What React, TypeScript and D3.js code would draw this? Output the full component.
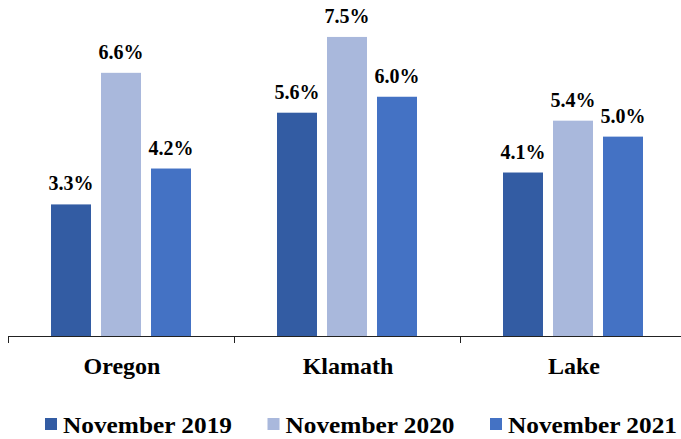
import React from "react";
import * as d3 from "d3";

const categories = ["Oregon", "Klamath", "Lake"];
const seriesNames = ["November 2019", "November 2020", "November 2021"];
const nov2019 = [3.3, 5.6, 4.1];
const nov2020 = [6.6, 7.5, 5.4];
const nov2021 = [4.2, 6.0, 5.0];
const colors = ["#335CA3", "#A9B8DC", "#4472C4"];

const W = 681;
const H = 439;
const font = "Times New Roman, Liberation Serif, Tinos, serif";

export default function App() {
  const values = [nov2019, nov2020, nov2021];

  const x = d3.scaleBand<string>().domain(categories).range([8, 686]);
  const xInner = d3
    .scaleBand<string>()
    .domain(seriesNames)
    .range([43, 183])
    .paddingInner(0.2);
  const y = d3.scaleLinear().domain([0, 8]).range([336, 17]);

  const boundaries = categories.map((c) => x(c) as number);

  return (
    <svg
      width={W}
      height={H}
      style={{ position: "absolute", left: 0, top: 0, background: "#fff", fontFamily: font }}
    >
      {categories.map((c, ci) =>
        seriesNames.map((s, si) => {
          const v = values[si][ci];
          const bx = (x(c) as number) + (xInner(s) as number);
          return (
            <g key={c + s}>
              <rect
                x={bx}
                y={y(v)}
                width={xInner.bandwidth()}
                height={y(0) - y(v)}
                fill={colors[si]}
              />
              <text
                x={bx + xInner.bandwidth() / 2}
                y={y(v) - 14}
                textAnchor="middle"
                fontWeight="bold"
                fontSize={20}
                fill="#000"
              >
                {v.toFixed(1)}%
              </text>
            </g>
          );
        })
      )}

      {/* axis */}
      <line x1={8} x2={W} y1={336.5} y2={336.5} stroke="#222" strokeWidth={1} />
      {boundaries.map((b) => (
        <line key={b} x1={b + 0.5} x2={b + 0.5} y1={336} y2={343} stroke="#222" />
      ))}
      {categories.map((c) => (
        <text
          key={c}
          x={(x(c) as number) + x.bandwidth() / 2 + 1}
          y={374}
          textAnchor="middle"
          fontWeight="bold"
          fontSize={24}
          fill="#000"
        >
          {c}
        </text>
      ))}

      {/* legend */}
      {seriesNames.map((s, i) => {
        const lx = 45 + i * 222.5;
        return (
          <g key={s}>
            <rect x={lx} y={418} width={12} height={12} fill={colors[i]} />
            <text
              x={lx + 18}
              y={433}
              fontWeight="bold"
              fontSize={23}
              textLength={169}
              lengthAdjust="spacingAndGlyphs"
              fill="#000"
            >
              {s}
            </text>
          </g>
        );
      })}
    </svg>
  );
}
